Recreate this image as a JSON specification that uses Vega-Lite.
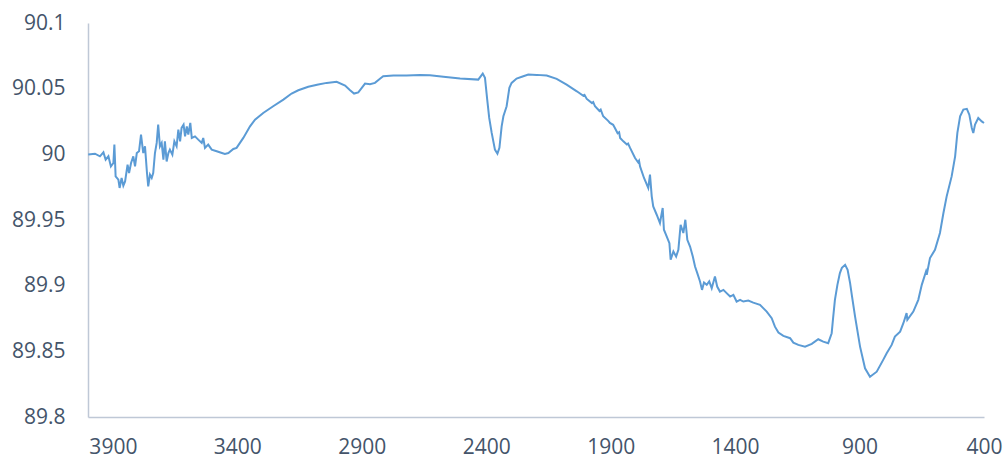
{
  "$schema": "https://vega.github.io/schema/vega-lite/v6.json",
  "width": 896,
  "height": 394,
  "autosize": "none",
  "padding": {"left": 88, "top": 23, "right": 21, "bottom": 42},
  "background": "white",
  "config": {"view": {"stroke": null}},
  "data": {"values": [
    {"wn": 3999, "t": 89.9998}, {"wn": 3972, "t": 90.0005}, {"wn": 3952, "t": 89.9985}, {"wn": 3938, "t": 90.0015},
    {"wn": 3929, "t": 89.9959}, {"wn": 3918, "t": 89.9985}, {"wn": 3908, "t": 89.9908}, {"wn": 3898, "t": 89.9934},
    {"wn": 3894, "t": 90.0074}, {"wn": 3889, "t": 89.9832}, {"wn": 3878, "t": 89.9807}, {"wn": 3873, "t": 89.9744},
    {"wn": 3865, "t": 89.9820}, {"wn": 3858, "t": 89.9761}, {"wn": 3851, "t": 89.9794}, {"wn": 3841, "t": 89.9921},
    {"wn": 3835, "t": 89.9858}, {"wn": 3827, "t": 89.9934}, {"wn": 3818, "t": 89.9985}, {"wn": 3811, "t": 89.9908},
    {"wn": 3804, "t": 90.0010}, {"wn": 3795, "t": 90.0023}, {"wn": 3787, "t": 90.0150}, {"wn": 3778, "t": 90.0010},
    {"wn": 3771, "t": 90.0061}, {"wn": 3763, "t": 89.9858}, {"wn": 3758, "t": 89.9756}, {"wn": 3751, "t": 89.9845},
    {"wn": 3744, "t": 89.9820}, {"wn": 3738, "t": 89.9858}, {"wn": 3731, "t": 90.0010}, {"wn": 3724, "t": 90.0087},
    {"wn": 3718, "t": 90.0226}, {"wn": 3711, "t": 90.0061}, {"wn": 3704, "t": 90.0087}, {"wn": 3697, "t": 89.9959},
    {"wn": 3691, "t": 90.0099}, {"wn": 3684, "t": 89.9946}, {"wn": 3677, "t": 90.0010}, {"wn": 3671, "t": 90.0036},
    {"wn": 3661, "t": 89.9998}, {"wn": 3653, "t": 90.0099}, {"wn": 3644, "t": 90.0061}, {"wn": 3637, "t": 90.0188},
    {"wn": 3630, "t": 90.0099}, {"wn": 3624, "t": 90.0201}, {"wn": 3616, "t": 90.0226}, {"wn": 3610, "t": 90.0137},
    {"wn": 3603, "t": 90.0213}, {"wn": 3597, "t": 90.0150}, {"wn": 3589, "t": 90.0239}, {"wn": 3583, "t": 90.0125},
    {"wn": 3570, "t": 90.0137}, {"wn": 3557, "t": 90.0112}, {"wn": 3543, "t": 90.0087}, {"wn": 3537, "t": 90.0125},
    {"wn": 3530, "t": 90.0049}, {"wn": 3517, "t": 90.0074}, {"wn": 3503, "t": 90.0036}, {"wn": 3483, "t": 90.0023},
    {"wn": 3462, "t": 90.0010}, {"wn": 3450, "t": 90.0003}, {"wn": 3436, "t": 90.0010}, {"wn": 3416, "t": 90.0041},
    {"wn": 3403, "t": 90.0049}, {"wn": 3376, "t": 90.0125}, {"wn": 3349, "t": 90.0213}, {"wn": 3329, "t": 90.0264},
    {"wn": 3296, "t": 90.0315}, {"wn": 3256, "t": 90.0366}, {"wn": 3215, "t": 90.0417}, {"wn": 3182, "t": 90.0463},
    {"wn": 3155, "t": 90.0488}, {"wn": 3115, "t": 90.0514}, {"wn": 3075, "t": 90.0531}, {"wn": 3041, "t": 90.0544},
    {"wn": 3001, "t": 90.0552}, {"wn": 2967, "t": 90.0524}, {"wn": 2947, "t": 90.0488}, {"wn": 2931, "t": 90.0463},
    {"wn": 2914, "t": 90.0472}, {"wn": 2900, "t": 90.0506}, {"wn": 2887, "t": 90.0539}, {"wn": 2867, "t": 90.0533},
    {"wn": 2847, "t": 90.0544}, {"wn": 2827, "t": 90.0575}, {"wn": 2814, "t": 90.0594}, {"wn": 2773, "t": 90.0600},
    {"wn": 2720, "t": 90.0600}, {"wn": 2666, "t": 90.0605}, {"wn": 2626, "t": 90.0602}, {"wn": 2572, "t": 90.0590},
    {"wn": 2505, "t": 90.0577}, {"wn": 2432, "t": 90.0569}, {"wn": 2414, "t": 90.0615}, {"wn": 2405, "t": 90.0582},
    {"wn": 2396, "t": 90.0417}, {"wn": 2388, "t": 90.0277}, {"wn": 2378, "t": 90.0163}, {"wn": 2365, "t": 90.0036},
    {"wn": 2355, "t": 90.0005}, {"wn": 2347, "t": 90.0049}, {"wn": 2338, "t": 90.0213}, {"wn": 2331, "t": 90.0290},
    {"wn": 2318, "t": 90.0366}, {"wn": 2307, "t": 90.0506}, {"wn": 2298, "t": 90.0544}, {"wn": 2278, "t": 90.0577},
    {"wn": 2251, "t": 90.0594}, {"wn": 2231, "t": 90.0607}, {"wn": 2197, "t": 90.0605}, {"wn": 2157, "t": 90.0600},
    {"wn": 2117, "t": 90.0575}, {"wn": 2077, "t": 90.0531}, {"wn": 2036, "t": 90.0480}, {"wn": 2010, "t": 90.0445},
    {"wn": 2005, "t": 90.0452}, {"wn": 1996, "t": 90.0422}, {"wn": 1975, "t": 90.0390}, {"wn": 1970, "t": 90.0398},
    {"wn": 1963, "t": 90.0366}, {"wn": 1945, "t": 90.0330}, {"wn": 1940, "t": 90.0340}, {"wn": 1930, "t": 90.0290},
    {"wn": 1910, "t": 90.0255}, {"wn": 1903, "t": 90.0239}, {"wn": 1890, "t": 90.0225}, {"wn": 1883, "t": 90.0201},
    {"wn": 1872, "t": 90.0160}, {"wn": 1866, "t": 90.0168}, {"wn": 1862, "t": 90.0125}, {"wn": 1849, "t": 90.0099},
    {"wn": 1835, "t": 90.0075}, {"wn": 1830, "t": 90.0082}, {"wn": 1822, "t": 90.0049}, {"wn": 1802, "t": 89.9972},
    {"wn": 1790, "t": 89.9940}, {"wn": 1786, "t": 89.9952}, {"wn": 1782, "t": 89.9908}, {"wn": 1766, "t": 89.9820},
    {"wn": 1749, "t": 89.9744}, {"wn": 1742, "t": 89.9845}, {"wn": 1735, "t": 89.9680}, {"wn": 1729, "t": 89.9603},
    {"wn": 1715, "t": 89.9540}, {"wn": 1702, "t": 89.9477}, {"wn": 1691, "t": 89.9591}, {"wn": 1686, "t": 89.9426},
    {"wn": 1675, "t": 89.9375}, {"wn": 1664, "t": 89.9324}, {"wn": 1659, "t": 89.9197}, {"wn": 1648, "t": 89.9260},
    {"wn": 1637, "t": 89.9222}, {"wn": 1628, "t": 89.9273}, {"wn": 1619, "t": 89.9464}, {"wn": 1608, "t": 89.9401},
    {"wn": 1600, "t": 89.9502}, {"wn": 1592, "t": 89.9349}, {"wn": 1581, "t": 89.9298}, {"wn": 1570, "t": 89.9222},
    {"wn": 1561, "t": 89.9146}, {"wn": 1552, "t": 89.9096}, {"wn": 1541, "t": 89.9032}, {"wn": 1533, "t": 89.8968},
    {"wn": 1525, "t": 89.9024}, {"wn": 1514, "t": 89.9006}, {"wn": 1504, "t": 89.9032}, {"wn": 1494, "t": 89.8981},
    {"wn": 1481, "t": 89.9070}, {"wn": 1472, "t": 89.8993}, {"wn": 1461, "t": 89.8955}, {"wn": 1447, "t": 89.8968},
    {"wn": 1434, "t": 89.8943}, {"wn": 1420, "t": 89.8917}, {"wn": 1407, "t": 89.8930}, {"wn": 1394, "t": 89.8879},
    {"wn": 1380, "t": 89.8892}, {"wn": 1367, "t": 89.8879}, {"wn": 1347, "t": 89.8887}, {"wn": 1327, "t": 89.8871},
    {"wn": 1300, "t": 89.8854}, {"wn": 1273, "t": 89.8803}, {"wn": 1253, "t": 89.8752}, {"wn": 1240, "t": 89.8688},
    {"wn": 1226, "t": 89.8643}, {"wn": 1206, "t": 89.8618}, {"wn": 1179, "t": 89.8600}, {"wn": 1166, "t": 89.8566},
    {"wn": 1146, "t": 89.8549}, {"wn": 1119, "t": 89.8536}, {"wn": 1092, "t": 89.8557}, {"wn": 1066, "t": 89.8592},
    {"wn": 1046, "t": 89.8574}, {"wn": 1026, "t": 89.8562}, {"wn": 1012, "t": 89.8638}, {"wn": 1007, "t": 89.8740},
    {"wn": 999, "t": 89.8892}, {"wn": 989, "t": 89.9006}, {"wn": 979, "t": 89.9096}, {"wn": 971, "t": 89.9136},
    {"wn": 958, "t": 89.9159}, {"wn": 948, "t": 89.9121}, {"wn": 938, "t": 89.9019}, {"wn": 930, "t": 89.8915},
    {"wn": 918, "t": 89.8765}, {"wn": 898, "t": 89.8536}, {"wn": 878, "t": 89.8371}, {"wn": 858, "t": 89.8307},
    {"wn": 831, "t": 89.8345}, {"wn": 805, "t": 89.8435}, {"wn": 791, "t": 89.8486}, {"wn": 771, "t": 89.8549},
    {"wn": 758, "t": 89.8612}, {"wn": 737, "t": 89.8650}, {"wn": 724, "t": 89.8714}, {"wn": 711, "t": 89.8791},
    {"wn": 708, "t": 89.8740}, {"wn": 684, "t": 89.8803}, {"wn": 664, "t": 89.8892}, {"wn": 650, "t": 89.9006},
    {"wn": 633, "t": 89.9108}, {"wn": 630, "t": 89.9083}, {"wn": 617, "t": 89.9210}, {"wn": 597, "t": 89.9273},
    {"wn": 577, "t": 89.9401}, {"wn": 563, "t": 89.9553}, {"wn": 550, "t": 89.9680}, {"wn": 530, "t": 89.9832},
    {"wn": 516, "t": 89.9985}, {"wn": 507, "t": 90.0163}, {"wn": 496, "t": 90.0290}, {"wn": 483, "t": 90.0341},
    {"wn": 469, "t": 90.0346}, {"wn": 459, "t": 90.0302}, {"wn": 449, "t": 90.0201}, {"wn": 443, "t": 90.0163},
    {"wn": 436, "t": 90.0226}, {"wn": 423, "t": 90.0277}, {"wn": 409, "t": 90.0251}, {"wn": 400, "t": 90.0239}
  ]},
  "mark": {"type": "line", "color": "#5B9BD5", "strokeWidth": 2, "interpolate": "linear"},
  "encoding": {
    "x": {
      "field": "wn", "type": "quantitative",
      "scale": {"domain": [400, 4000], "reverse": true, "nice": false, "zero": false},
      "axis": {
        "title": null, "values": [3900, 3400, 2900, 2400, 1900, 1400, 900, 400], "format": "d",
        "grid": false, "ticks": false, "labelPadding": 19, "labelFont": "Open Sans",
        "labelFontSize": 21, "labelColor": "#44546A", "domainColor": "#BFC8D6", "domainWidth": 1.5,
        "labelFlush": false, "labelOverlap": false, "labelBound": false
      }
    },
    "y": {
      "field": "t", "type": "quantitative",
      "scale": {"domain": [89.8, 90.1], "nice": false, "zero": false},
      "axis": {
        "title": null, "values": [89.8, 89.85, 89.9, 89.95, 90, 90.05, 90.1], "format": ".2~f",
        "grid": false, "ticks": false, "labelPadding": 23, "labelFont": "Open Sans",
        "labelFontSize": 21, "labelColor": "#44546A", "domainColor": "#BFC8D6", "domainWidth": 1.5,
        "labelFlush": false, "labelOverlap": false, "labelBound": false
      }
    }
  }
}
